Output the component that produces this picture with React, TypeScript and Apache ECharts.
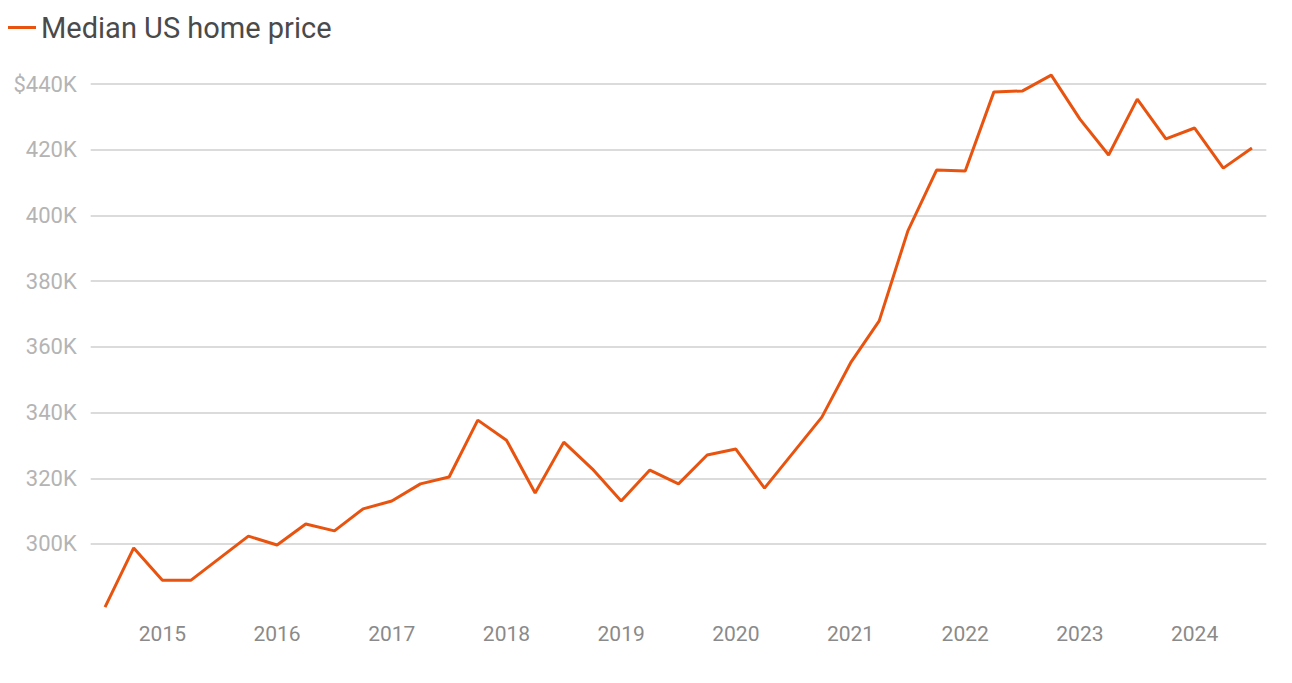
import React, { useEffect, useRef } from "react";
import * as echarts from "echarts";

const quarters: string[] = [
  "2014 Q3", "2014 Q4",
  "2015 Q1", "2015 Q2", "2015 Q3", "2015 Q4",
  "2016 Q1", "2016 Q2", "2016 Q3", "2016 Q4",
  "2017 Q1", "2017 Q2", "2017 Q3", "2017 Q4",
  "2018 Q1", "2018 Q2", "2018 Q3", "2018 Q4",
  "2019 Q1", "2019 Q2", "2019 Q3", "2019 Q4",
  "2020 Q1", "2020 Q2", "2020 Q3", "2020 Q4",
  "2021 Q1", "2021 Q2", "2021 Q3", "2021 Q4",
  "2022 Q1", "2022 Q2", "2022 Q3", "2022 Q4",
  "2023 Q1", "2023 Q2", "2023 Q3", "2023 Q4",
  "2024 Q1", "2024 Q2", "2024 Q3",
];

const medianPrice: number[] = [
  280800, 298800, 289000, 289000, 295700, 302400, 299700, 306100, 304000, 310700,
  313100, 318300, 320400, 337700, 331600, 315500, 331000, 322800, 313100, 322500,
  318300, 327100, 328900, 317000, 327800, 338600, 355100, 367900, 395300, 413800,
  413500, 437600, 437900, 442700, 429300, 418400, 435400, 423300, 426600, 414400,
  420500,
];

const seriesName = "Median US home price";
const yMin = 280000;
const yMax = 440000;
const yStep = 20000;

const FONT = "Roboto, 'Noto Sans', sans-serif";

export default function App() {
  const ref = useRef<HTMLDivElement>(null);
  useEffect(() => {
    if (!ref.current) return;
    const chart = echarts.init(ref.current, undefined, { renderer: "svg" });
    chart.setOption({
      animation: false,
      backgroundColor: "#ffffff",
      legend: {
        left: 3,
        top: 8,
        icon: "rect",
        itemWidth: 28,
        itemHeight: 3,
        itemGap: 10,
        textStyle: { fontFamily: FONT, fontSize: 29, color: "#4a4a4a", padding: [0, 0, 0, 0] },
        data: [seriesName],
      },
      grid: { left: 90.7, right: 25.7, top: 84, bottom: 73.3, containLabel: false },
      xAxis: {
        type: "category",
        data: quarters,
        boundaryGap: true,
        axisLine: { show: false },
        axisTick: { show: false },
        splitLine: { show: false },
        axisLabel: {
          interval: (i: number, v: string) => v.endsWith("Q1"),
          formatter: (v: string) => v.slice(0, 4),
          fontFamily: FONT,
          fontSize: 21,
          color: "#8a8a8a",
          margin: 14,
        },
      },
      yAxis: {
        type: "value",
        min: yMin,
        max: yMax,
        interval: yStep,
        axisLine: { show: false },
        axisTick: { show: false },
        splitLine: { show: true, showMinLine: false, lineStyle: { color: "#cfcfcf", width: 1.5 } },
        axisLabel: {
          showMinLabel: false,
          formatter: (v: number) => (v === yMax ? "$" : "") + v / 1000 + "K",
          fontFamily: FONT,
          fontSize: 22,
          color: "#b4b4b4",
          margin: 14,
        },
      },
      series: [
        {
          name: seriesName,
          type: "line",
          data: medianPrice,
          symbol: "none",
          clip: false,
          lineStyle: { color: "#e8540f", width: 3 },
          itemStyle: { color: "#e8540f" },
        },
      ],
    });
    return () => chart.dispose();
  }, []);
  return <div ref={ref} style={{ position: "fixed", left: 0, top: 0, width: 1292, height: 683 }} />;
}
